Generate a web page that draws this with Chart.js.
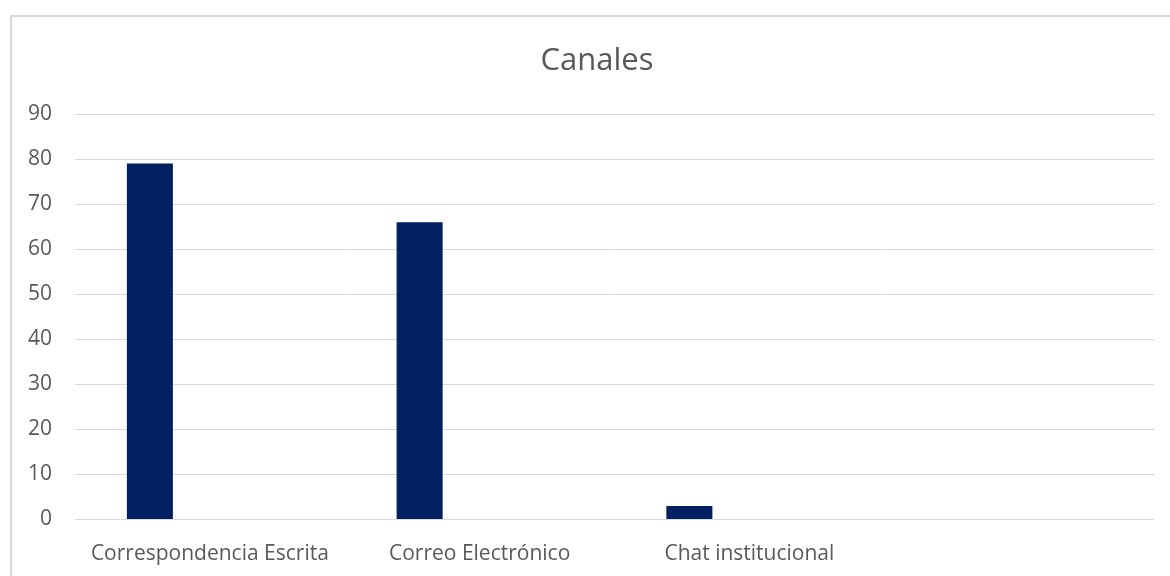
<!DOCTYPE html>
<html>
<head>
<meta charset="utf-8">
<script src="https://cdn.jsdelivr.net/npm/chart.js@4/dist/chart.umd.min.js"></script>
<style>
  html, body { margin: 0; padding: 0; background: #fff; overflow: hidden; }
  #wrap { position: relative; width: 1194px; height: 576px; }
  #frame { position: absolute; left: 10px; top: 15px; width: 1200px; height: 600px;
           border-left: 2px solid #d9d9d9; border-top: 2px solid #d9d9d9; box-sizing: border-box; }
  canvas { position: absolute; left: 0; top: 0; }
</style>
</head>
<body>
<div id="wrap">
  <div id="frame"></div>
  <canvas id="c" width="1194" height="576"></canvas>
</div>
<script>
const categories = ['Correspondencia Escrita', 'Correo Electrónico', 'Chat institucional', ''];
const canales = [79, 66, 3, null];
const serie2 = [null, null, null, null];
const serie3 = [null, null, null, null];
const yTicks = [0, 10, 20, 30, 40, 50, 60, 70, 80, 90];
const titleText = 'Canales';

const FONT = "'Open Sans', 'Noto Sans', sans-serif";
const GREY = '#595959';

// Title drawn centred over the whole chart frame (frame centre, not plot centre)
const frameTitle = {
  id: 'frameTitle',
  afterDraw(chart, args, opts) {
    const ctx = chart.ctx;
    ctx.save();
    ctx.fillStyle = opts.color;
    ctx.font = opts.size + 'px ' + FONT;
    ctx.textAlign = 'center';
    ctx.textBaseline = 'alphabetic';
    ctx.fillText(opts.text, opts.x, opts.baseline);
    ctx.restore();
  }
};

new Chart(document.getElementById('c'), {
  type: 'bar',
  data: {
    labels: categories,
    datasets: [
      { label: 'Canales', data: canales, backgroundColor: '#002060', borderWidth: 0 },
      { label: 's2', data: serie2, backgroundColor: '#002060' },
      { label: 's3', data: serie3, backgroundColor: '#002060' }
    ]
  },
  plugins: [frameTitle],
  options: {
    responsive: false,
    animation: false,
    devicePixelRatio: 1,
    categoryPercentage: 0.6673,
    barPercentage: 0.767,
    layout: { padding: { left: 0, right: 40, top: 114, bottom: 0 } },
    plugins: {
      legend: { display: false },
      tooltip: { enabled: false },
      title: { display: false },
      frameTitle: { text: titleText, color: GREY, size: 31, x: 597, baseline: 70 }
    },
    scales: {
      x: {
        grid: { display: false, drawTicks: false },
        border: { display: false },
        ticks: { color: GREY, font: { family: FONT, size: 21 }, padding: 22, maxRotation: 0, autoSkip: false },
        afterFit: (s) => { s.height = 56.5; }
      },
      y: {
        min: 0, max: 90,
        afterBuildTicks: (s) => { s.ticks = yTicks.map(v => ({ value: v })); },
        grid: { color: '#d9d9d9', lineWidth: 1, drawTicks: false },
        border: { display: false },
        ticks: { color: GREY, font: { family: FONT, size: 21 }, padding: 23 },
        afterFit: (s) => { s.width = 75; }
      }
    }
  }
});
</script>
</body>
</html>
